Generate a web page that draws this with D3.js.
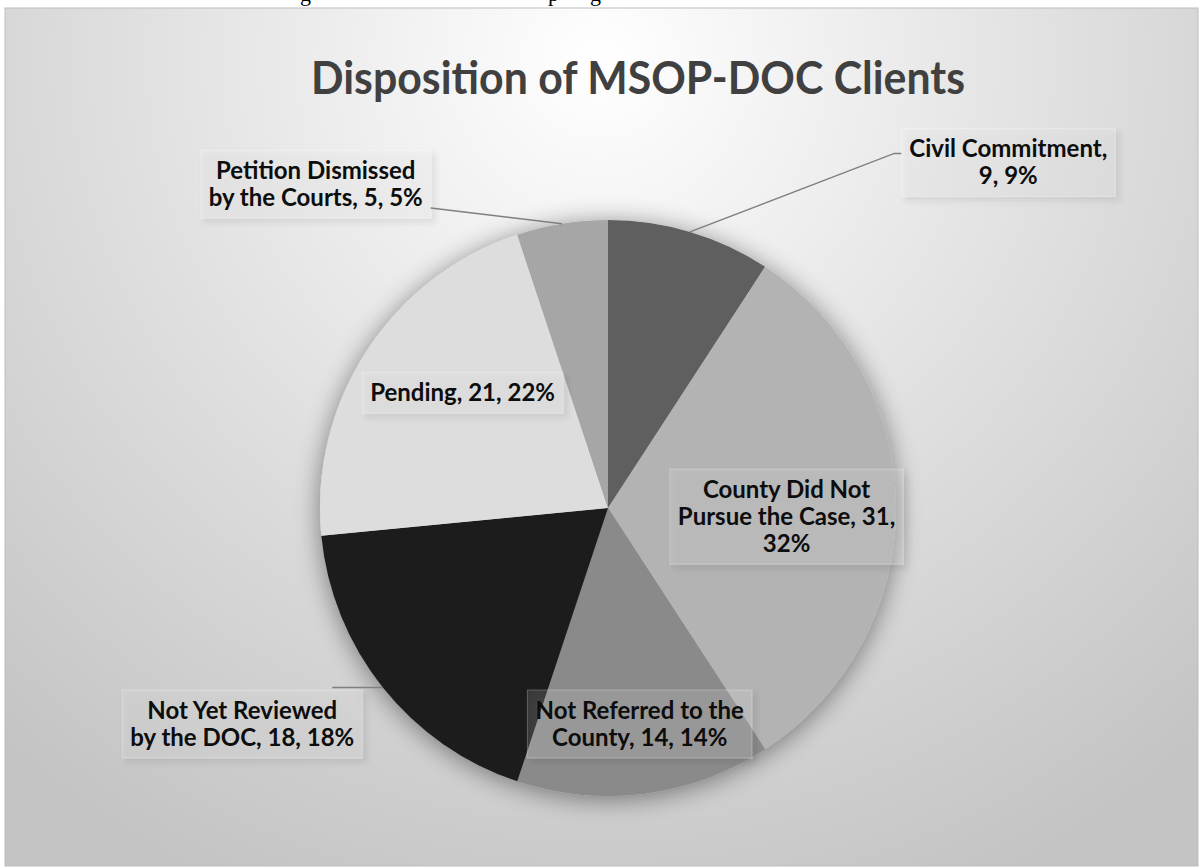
<!DOCTYPE html>
<html>
<head>
<meta charset="utf-8">
<script src="https://cdn.jsdelivr.net/npm/d3@7"></script>
<style>
  html, body { margin: 0; padding: 0; background: #fff; }
  svg { display: block; }
</style>
</head>
<body>
<svg id="chart" width="1202" height="867"></svg>
<script>
// chart data
var categories = ["Civil Commitment", "County Did Not Pursue the Case", "Not Referred to the County",
                  "Not Yet Reviewed by the DOC", "Pending", "Petition Dismissed by the Courts"];
var counts = [9, 31, 14, 18, 21, 5];
var percents = ["9%", "32%", "14%", "18%", "22%", "5%"];
var labelLines = [
    ["Civil Commitment,", "9, 9%"],
    ["County Did Not", "Pursue the Case, 31,", "32%"],
    ["Not Referred to the", "County, 14, 14%"],
    ["Not Yet Reviewed", "by the DOC, 18, 18%"],
    ["Pending, 21, 22%"],
    ["Petition Dismissed", "by the Courts, 5, 5%"]
];
var sliceColors = ["#5f5f5f", "#b3b3b3", "#8a8a8a", "#1c1c1c", "#dddddd", "#a6a6a6"];

var svg = d3.select("#chart");
var cx = 608, cy = 508, radius = 288;

var defs = svg.append("defs");
var bg = defs.append("radialGradient").attr("id", "bgGrad")
    .attr("gradientUnits", "userSpaceOnUse")
    .attr("cx", 600).attr("cy", 60).attr("r", 900);
bg.append("stop").attr("offset", "0").attr("stop-color", "#ffffff");
bg.append("stop").attr("offset", "0.55").attr("stop-color", "#dedede");
bg.append("stop").attr("offset", "1").attr("stop-color", "#c4c4c4");

var pieShadow = defs.append("filter").attr("id", "pieShadow")
    .attr("x", "-20%").attr("y", "-20%").attr("width", "140%").attr("height", "140%");
pieShadow.append("feGaussianBlur").attr("in", "SourceAlpha").attr("stdDeviation", 13);
pieShadow.append("feOffset").attr("dx", 0).attr("dy", 3).attr("result", "b");
pieShadow.append("feComponentTransfer").append("feFuncA").attr("type", "linear").attr("slope", 0.45);
var m1 = pieShadow.append("feMerge");
m1.append("feMergeNode");
m1.append("feMergeNode").attr("in", "SourceGraphic");

var boxShadow = defs.append("filter").attr("id", "boxShadow")
    .attr("x", "-20%").attr("y", "-30%").attr("width", "140%").attr("height", "160%");
boxShadow.append("feGaussianBlur").attr("in", "SourceAlpha").attr("stdDeviation", 3);
boxShadow.append("feOffset").attr("dx", 4).attr("dy", 4).attr("result", "b");
boxShadow.append("feComponentTransfer").append("feFuncA").attr("type", "linear").attr("slope", 0.55);
var m2 = boxShadow.append("feMerge");
m2.append("feMergeNode");
m2.append("feMergeNode").attr("in", "SourceGraphic");

// cut-off document text above the chart frame
svg.selectAll("text.doc").data([["g", 300], ["p", 548], ["g", 590]]).enter()
    .append("text").attr("class", "doc")
    .attr("x", function (d) { return d[1]; }).attr("y", 1)
    .attr("font-family", "Liberation Serif").attr("font-size", 22).attr("fill", "#000")
    .text(function (d) { return d[0]; });

// chart area
svg.append("rect").attr("x", 5).attr("y", 8).attr("width", 1193).attr("height", 858)
    .attr("fill", "url(#bgGrad)").attr("stroke", "#bdbdbd").attr("stroke-width", 1);

svg.append("text")
    .attr("x", 638).attr("y", 94)
    .attr("text-anchor", "middle")
    .attr("font-family", "Lato").attr("font-weight", "bold").attr("font-size", 45)
    .attr("fill", "#404040")
    .attr("textLength", 654).attr("lengthAdjust", "spacingAndGlyphs")
    .text("Disposition of MSOP-DOC Clients");

var pie = d3.pie().sort(null).value(function (d) { return d; });
var arcs = pie(counts);
var arc = d3.arc().innerRadius(0).outerRadius(radius);

var g = svg.append("g").attr("transform", "translate(" + cx + "," + cy + ")");
g.append("g").attr("filter", "url(#pieShadow)")
    .selectAll("path").data(arcs).enter()
    .append("path")
    .attr("d", arc)
    .attr("fill", function (d, i) { return sliceColors[i]; });

// label layout: centre of each box, relative to pie centre, in radius units
var labelAt = [[1.39, -1.2], [0.62, 0.03], [0.11, 0.75], [-1.27, 0.75], [-0.505, -0.4], [-1.015, -1.125]];
var leaders = [true, false, false, true, false, true];
var fontSize = 24, lineH = 27;

arcs.forEach(function (d, i) {
    var lx = labelAt[i][0] * radius, ly = labelAt[i][1] * radius;
    var lines = labelLines[i];
    var lg = g.append("g");
    var txt = lg.append("text")
        .attr("text-anchor", "middle")
        .attr("font-family", "Lato").attr("font-weight", "bold").attr("font-size", fontSize)
        .attr("fill", "#0d0d0d");
    var top = ly - lines.length * lineH / 2;
    lines.forEach(function (s, k) {
        txt.append("tspan").attr("x", lx).attr("y", top + (k + 0.8) * lineH).text(s);
    });
    var bb = txt.node().getBBox();
    var bw = bb.width + 16, bh = lines.length * lineH + 14;
    var bx = lx - bw / 2, by = ly - bh / 2;
    lg.insert("rect", "text")
        .attr("x", bx).attr("y", by).attr("width", bw).attr("height", bh)
        .attr("fill", "rgba(255,255,255,0.12)")
        .attr("stroke", "rgba(255,255,255,0.25)")
        .attr("filter", "url(#boxShadow)");

    if (leaders[i]) {
        var a = (d.startAngle + d.endAngle) / 2;
        var ex = Math.sin(a) * radius, ey = -Math.cos(a) * radius;
        var pts;
        if (i === 0) pts = [[ex, ey], [bx - 7, by + 25], [bx, by + 25]];
        else if (i === 5) pts = [[ex, ey], [bx + bw, by + bh - 10]];
        else pts = [[ex, ey], [bx + bw - 30, ey]];
        g.append("path")
            .attr("d", d3.line()(pts))
            .attr("fill", "none").attr("stroke", "#7f7f7f").attr("stroke-width", 1.5);
    }
});
</script>
</body>
</html>
